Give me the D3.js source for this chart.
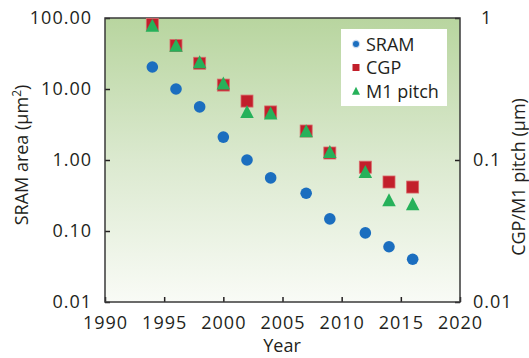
<!DOCTYPE html>
<html>
<head>
<meta charset="utf-8">
<script src="https://cdn.jsdelivr.net/npm/d3@7"></script>
<style>
  body { margin: 0; background: #fff; }
  svg text { font-family: "Open Sans", sans-serif; fill: #231f20; }
</style>
</head>
<body>
<div id="chart"></div>
<script>
// values
const years = [1994, 1996, 1998, 2000, 2002, 2004, 2007, 2009, 2012, 2014, 2016];
const sram = [20.4, 10, 5.6, 2.1, 1.0, 0.56, 0.34, 0.148, 0.094, 0.060, 0.040];
const cgp = [0.90, 0.64, 0.48, 0.337, 0.26, 0.218, 0.16, 0.112, 0.089, 0.070, 0.0645];
const m1 = [0.86, 0.62, 0.475, 0.337, 0.212, 0.207, 0.155, 0.111, 0.080, 0.0506, 0.0474];

const xTicks = [1990, 1995, 2000, 2005, 2010, 2015, 2020];
const leftTicks = [100, 10, 1, 0.1, 0.01];
const rightTicks = [1, 0.1, 0.01];
const legendNames = ['SRAM', 'CGP', 'M1 pitch'];

const W = 529, H = 358;
const m = { left: 105, right: 460, top: 18, bottom: 302 };

const svg = d3.select('#chart').append('svg')
    .attr('width', W)
    .attr('height', H);

const x = d3.scaleLinear().domain([1990, 2020]).range([m.left, m.right]);
const yL = d3.scaleLog().domain([0.01, 100]).range([m.bottom, m.top]);
const yR = d3.scaleLog().domain([0.01, 1]).range([m.bottom, m.top]);

// background gradient
const grad = svg.append('defs').append('linearGradient')
    .attr('id', 'bg').attr('x1', 0).attr('y1', 0).attr('x2', 0).attr('y2', 1);
grad.append('stop').attr('offset', '0%').attr('stop-color', '#b8d59f');
grad.append('stop').attr('offset', '50%').attr('stop-color', '#dbe9cf');
grad.append('stop').attr('offset', '100%').attr('stop-color', '#f9fbf6');

svg.append('rect')
    .attr('x', m.left).attr('y', m.top)
    .attr('width', m.right - m.left).attr('height', m.bottom - m.top)
    .attr('fill', 'url(#bg)');

// axes
const xAxis = svg.append('g')
    .attr('transform', `translate(0,${m.bottom})`)
    .call(d3.axisBottom(x).tickValues(xTicks).tickFormat(d3.format('d')).tickSizeInner(-5).tickSizeOuter(0).tickPadding(14));

const lAxis = svg.append('g')
    .attr('transform', `translate(${m.left},0)`)
    .call(d3.axisLeft(yL).tickValues(leftTicks).tickFormat(d3.format('.2f')).tickSizeInner(-5).tickSizeOuter(0).tickPadding(13));

const rAxis = svg.append('g')
    .attr('transform', `translate(${m.right},0)`)
    .call(d3.axisRight(yR).tickValues(rightTicks).tickFormat(d => d3.format('~g')(d)).tickSizeInner(-5).tickSizeOuter(0).tickPadding(13));

[xAxis, lAxis, rAxis].forEach(a => {
    a.select('.domain').remove();
    a.selectAll('line').attr('stroke', '#231f20').attr('stroke-width', 1.5);
    a.selectAll('text').attr('font-size', 18).attr('letter-spacing', 1)
        .attr('font-family', '"Open Sans", sans-serif').attr('fill', '#231f20');
});
rAxis.selectAll('text').filter(d => d === 1).attr('dx', 8);

// frame
svg.append('rect')
    .attr('x', m.left).attr('y', m.top)
    .attr('width', m.right - m.left).attr('height', m.bottom - m.top)
    .attr('fill', 'none').attr('stroke', '#3a3a3a').attr('stroke-width', 1.5);

// markers
const tri = (w, h) => `M0,${-h * 2 / 3}L${w / 2},${h / 3}L${-w / 2},${h / 3}Z`;

svg.append('g').selectAll('rect')
    .data(years.map((y, i) => [y, cgp[i]]))
    .enter().append('rect')
    .attr('x', d => x(d[0]) - 6)
    .attr('y', d => yR(d[1]) - 6)
    .attr('width', 12).attr('height', 12)
    .attr('fill', '#c21f2b').attr('stroke', '#d9686b').attr('stroke-width', 0.8);

svg.append('g').selectAll('path')
    .data(years.map((y, i) => [y, m1[i]]))
    .enter().append('path')
    .attr('transform', d => `translate(${x(d[0])},${yR(d[1])})`)
    .attr('d', tri(13.5, 13))
    .attr('fill', '#26b15a');

svg.append('g').selectAll('circle')
    .data(years.map((y, i) => [y, sram[i]]))
    .enter().append('circle')
    .attr('cx', d => x(d[0]))
    .attr('cy', d => yL(d[1]))
    .attr('r', 5.8)
    .attr('fill', '#1b6ebf');

// legend
const lg = svg.append('g');
lg.append('rect').attr('x', 341).attr('y', 29).attr('width', 106).attr('height', 77).attr('fill', '#fff');
const rows = lg.selectAll('g.row').data(legendNames).enter().append('g')
    .attr('transform', (d, i) => `translate(356,${44 + i * 23.5})`);
rows.each(function (d, i) {
    const g = d3.select(this);
    if (i === 0) {
        g.append('circle').attr('r', 4.2).attr('fill', '#c9d9ef');
        g.append('circle').attr('r', 3).attr('fill', '#1b6ebf');
    } else if (i === 1) {
        g.append('rect').attr('x', -3.5).attr('y', -3.5).attr('width', 7).attr('height', 7).attr('fill', '#c21f2b');
    } else {
        g.append('path').attr('d', tri(8, 8)).attr('transform', 'translate(0,1)').attr('fill', '#26b15a');
    }
    g.append('text').attr('x', 10).attr('y', 6.5).attr('font-size', 18).text(d);
});

// axis titles
svg.append('text')
    .attr('transform', `translate(28,155) rotate(-90)`)
    .attr('text-anchor', 'middle').attr('font-size', 18)
    .html('SRAM area (µm<tspan dy="-7" font-size="12">2</tspan><tspan dy="7">)</tspan>');

svg.append('text')
    .attr('transform', `translate(525,177) rotate(-90)`)
    .attr('text-anchor', 'middle').attr('font-size', 18)
    .text('CGP/M1 pitch (µm)');

svg.append('text')
    .attr('x', 282).attr('y', 352)
    .attr('text-anchor', 'middle').attr('font-size', 18)
    .text('Year');
</script>
</body>
</html>
